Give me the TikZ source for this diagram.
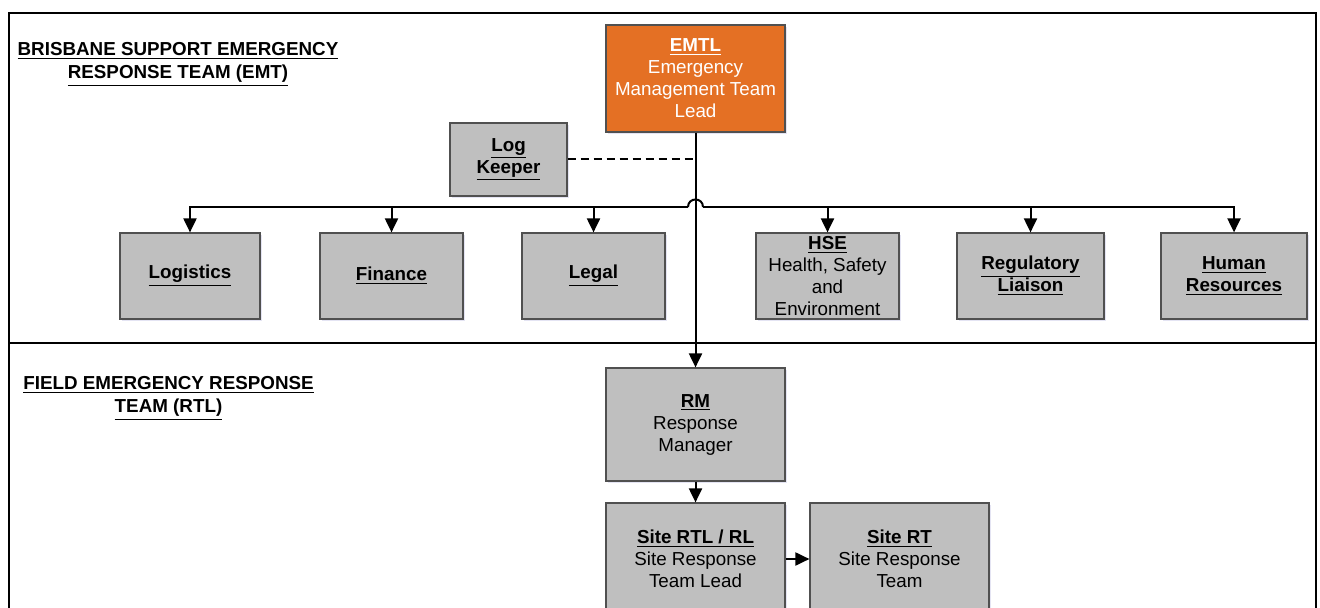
\documentclass[tikz,border=0pt]{standalone}
\usepackage{fontspec}
\setmainfont{Liberation Sans}
\usetikzlibrary{arrows.meta,shadows}
\definecolor{emtorange}{RGB}{228,112,36}
\definecolor{boxgray}{RGB}{191,191,191}
\definecolor{edgegray}{RGB}{80,80,80}
\tikzset{
    role/.style={draw=edgegray, line width=0.6pt, fill=boxgray, align=center, inner sep=1pt,
        font=\fontsize{9.4}{11}\selectfont,
        drop shadow={shadow xshift=0.8pt, shadow yshift=-0.8pt, opacity=0.15, fill=blue!40!gray}},
    lead/.style={role, fill=emtorange, text=white},
    heading/.style={align=center, font=\fontsize{9.4}{11.5}\selectfont\bfseries},
    link/.style={line width=1pt, -{Triangle[width=6.5pt,length=7pt]}},
}

\begin{document}
\begin{tikzpicture}[x=0.5pt,y=-0.5pt]
\useasboundingbox (0,0) rectangle (1320,608);
\clip (0,0) rectangle (1320,608);
\fill[white] (0,0) rectangle (1320,608);
\draw[line width=1pt] (9,13) rectangle (1316,640);
\draw[line width=1pt] (9,343) -- (1316,343);

\node[heading] (brisbane) at (178,64.5) {\underline{BRISBANE SUPPORT EMERGENCY}\\\underline{RESPONSE TEAM (EMT)}};
\node[heading] (field) at (168.5,398.5) {\underline{FIELD EMERGENCY RESPONSE}\\\underline{TEAM (RTL)}};

\node[lead, minimum width=89.5pt, minimum height=53.5pt] (emtl) at (695.5,78.5) {\underline{\textbf{EMTL}}\\Emergency\\Management Team\\Lead};
\node[role, minimum width=58.5pt, minimum height=36.5pt] (logk) at (508.5,159.5) {\underline{\textbf{Log}}\\\underline{\textbf{Keeper}}};

\node[role, minimum width=70pt, minimum height=43pt] (logi) at (190,276) {\underline{\textbf{Logistics}}};
\node[role, minimum width=71.5pt, minimum height=43pt] (fin) at (391.5,276) {\underline{\textbf{Finance}}};
\node[role, minimum width=71.5pt, minimum height=43pt] (legal) at (593.5,276) {\underline{\textbf{Legal}}};
\node[role, minimum width=71.5pt, minimum height=43pt] (hse) at (827.5,276) {\underline{\textbf{HSE}}\\Health, Safety\\and\\Environment};
\node[role, minimum width=73.5pt, minimum height=43pt] (reg) at (1030.5,276) {\underline{\textbf{Regulatory}}\\\underline{\textbf{Liaison}}};
\node[role, minimum width=73pt, minimum height=43pt] (hr) at (1234,276) {\underline{\textbf{Human}}\\\underline{\textbf{Resources}}};

\node[role, minimum width=89.5pt, minimum height=56.5pt] (rm) at (695.5,424.5) {\underline{\textbf{RM}}\\Response\\Manager};
\node[role, minimum width=89.5pt, minimum height=56pt] (srtl) at (695.5,559) {\underline{\textbf{Site RTL / RL}}\\Site Response\\Team Lead};
\node[role, minimum width=89.5pt, minimum height=56pt] (srt) at (899.5,559) {\underline{\textbf{Site RT}}\\Site Response\\Team};

\coordinate (hopL) at (688,207);
\coordinate (hopR) at (703,207);
\draw[link] (hopL) -| (logi);
\draw[link] (hopL) -| (fin);
\draw[link] (hopL) -| (legal);
\draw[link] (hopR) -| (hse);
\draw[link] (hopR) -| (reg);
\draw[link] (hopR) -| (hr);
\draw[line width=1pt] (hopL) .. controls +(0,-10) and +(0,-10) .. (hopR);
\draw[link] (emtl) -- (rm);
\draw[line width=1pt, dash pattern=on 4pt off 2.5pt] (logk) -- (logk -| emtl);
\draw[link] (rm) -- (srtl);
\draw[link] (srtl) -- (srt);
\end{tikzpicture}
\end{document}
